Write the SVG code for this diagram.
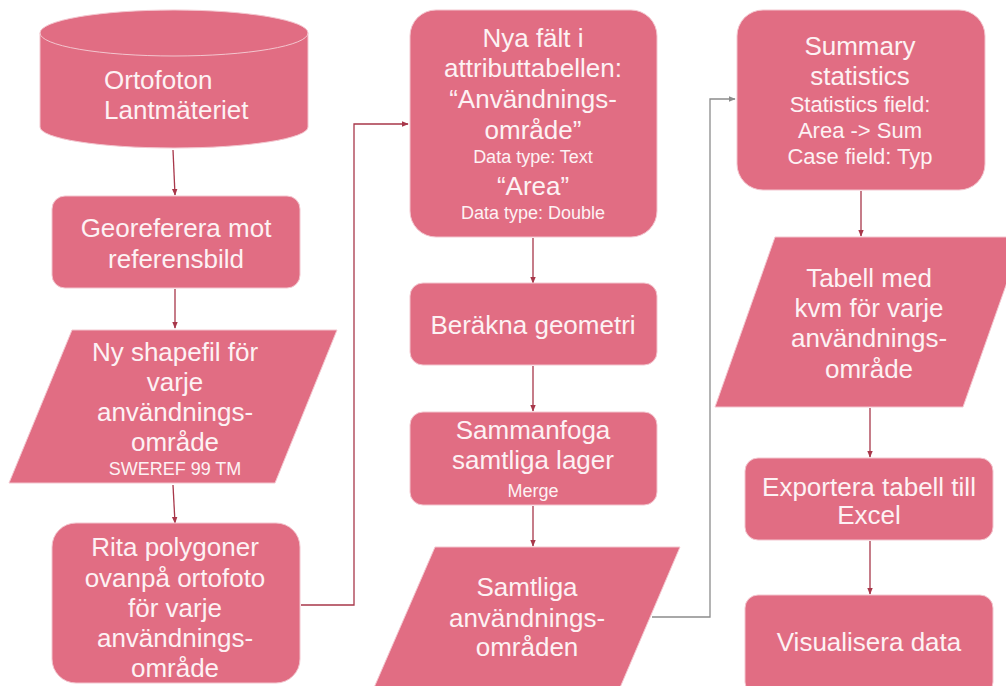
<svg xmlns="http://www.w3.org/2000/svg" width="1006" height="686" viewBox="0 0 1006 686">
<defs>
<style>
.n{fill:#e16d83;stroke:#f3c6cf;stroke-width:1}
.t{font-family:"Liberation Sans",Arial,sans-serif;fill:#fdf2f4;text-anchor:middle;font-size:26px}
.s{font-size:18px}
.m{font-size:22px}
.c{fill:none;stroke:#a8374a;stroke-width:1.3}
.g{fill:none;stroke:#8c8c8c;stroke-width:1.3}
</style>
<marker id="ar" viewBox="0 0 10 10" refX="9" refY="5" markerWidth="7" markerHeight="7" markerUnits="userSpaceOnUse" orient="auto"><path d="M0,1 L10,5 L0,9 z" fill="#a8374a"/></marker>
<marker id="ag" viewBox="0 0 10 10" refX="9" refY="5" markerWidth="7" markerHeight="7" markerUnits="userSpaceOnUse" orient="auto"><path d="M0,1 L10,5 L0,9 z" fill="#8c8c8c"/></marker>
</defs>
<rect width="1006" height="686" fill="#ffffff"/>
<g id="connectors">
<path class="c" d="M173,150 L175,195" marker-end="url(#ar)"/>
<path class="c" d="M175,289 L175,328" marker-end="url(#ar)"/>
<path class="c" d="M173,485 L175,523" marker-end="url(#ar)"/>
<path class="c" d="M301,605 L354,605 L354,124 L408,124" marker-end="url(#ar)"/>
<path class="c" d="M533,238 L533,283" marker-end="url(#ar)"/>
<path class="c" d="M533,366 L533,411" marker-end="url(#ar)"/>
<path class="c" d="M533,506 L533,546" marker-end="url(#ar)"/>
<path class="g" d="M652,617 L710,617 L710,99 L735,99" marker-end="url(#ag)"/>
<path class="c" d="M861,191 L861,236" marker-end="url(#ar)"/>
<path class="c" d="M870,408 L870,457" marker-end="url(#ar)"/>
<path class="c" d="M870,541 L870,594" marker-end="url(#ar)"/>
</g>
<g id="ortofoton">
<path class="n" d="M40,33 A134,23 0 0 1 308,33 L308,127 A134,21 0 0 1 40,127 Z"/>
<path d="M40,33 A134,23 0 0 0 308,33" fill="none" stroke="#f3c6cf" stroke-width="1"/>
<text class="t" style="text-anchor:start" x="104" y="89">Ortofoton</text>
<text class="t" style="text-anchor:start" x="104" y="119">Lantmäteriet</text>
</g>
<g id="georeferera">
<rect class="n" x="52" y="196" width="248" height="92" rx="13"/>
<text class="t" x="176" y="237">Georeferera mot</text>
<text class="t" x="176" y="268">referensbild</text>
</g>
<g id="nyshapefil">
<polygon class="n" points="72,330 337,330 275,483 9,483"/>
<text class="t" x="175" y="361">Ny shapefil för</text>
<text class="t" x="175" y="391">varje</text>
<text class="t" x="175" y="421">användnings-</text>
<text class="t" x="175" y="451">område</text>
<text class="t s" x="175" y="475">SWEREF 99 TM</text>
</g>
<g id="rita">
<rect class="n" x="52" y="523" width="248" height="160" rx="24"/>
<text class="t" x="175" y="556">Rita polygoner</text>
<text class="t" x="175" y="587">ovanpå ortofoto</text>
<text class="t" x="175" y="617">för varje</text>
<text class="t" x="175" y="647">användnings-</text>
<text class="t" x="175" y="677">område</text>
</g>
<g id="nyafalt">
<rect class="n" x="410" y="10" width="247" height="227" rx="26"/>
<text class="t" x="533" y="47">Nya fält i</text>
<text class="t" x="533" y="77">attributtabellen:</text>
<text class="t" x="533" y="108">“Användnings-</text>
<text class="t" x="533" y="139">område”</text>
<text class="t s" x="533" y="163">Data type: Text</text>
<text class="t" x="533" y="195">“Area”</text>
<text class="t s" x="533" y="219">Data type: Double</text>
</g>
<g id="berakna">
<rect class="n" x="410" y="283" width="247" height="82" rx="13"/>
<text class="t" x="533" y="334">Beräkna geometri</text>
</g>
<g id="sammanfoga">
<rect class="n" x="410" y="412" width="247" height="93" rx="13"/>
<text class="t" x="533" y="439">Sammanfoga</text>
<text class="t" x="533" y="469">samtliga lager</text>
<text class="t s" x="533" y="497">Merge</text>
</g>
<g id="samtliga">
<polygon class="n" points="435,547 680,547 619,690 373,690"/>
<text class="t" x="527" y="596">Samtliga</text>
<text class="t" x="527" y="627">användnings-</text>
<text class="t" x="527" y="656">områden</text>
</g>
<g id="summary">
<rect class="n" x="737" y="10" width="248" height="180" rx="26"/>
<text class="t" x="860" y="55">Summary</text>
<text class="t" x="860" y="85">statistics</text>
<text class="t m" x="860" y="112">Statistics field:</text>
<text class="t m" x="860" y="138">Area -&gt; Sum</text>
<text class="t m" x="860" y="164">Case field: Typ</text>
</g>
<g id="tabell">
<polygon class="n" points="775,237 1023,237 963,407 715,407"/>
<text class="t" x="869" y="287">Tabell med</text>
<text class="t" x="869" y="317">kvm för varje</text>
<text class="t" x="869" y="347">användnings-</text>
<text class="t" x="869" y="378">område</text>
</g>
<g id="exportera">
<rect class="n" x="745" y="458" width="248" height="82" rx="13"/>
<text class="t" x="869" y="496">Exportera tabell till</text>
<text class="t" x="869" y="524">Excel</text>
</g>
<g id="visualisera">
<rect class="n" x="745" y="595" width="248" height="100" rx="13"/>
<text class="t" x="869" y="651">Visualisera data</text>
</g>
</svg>
